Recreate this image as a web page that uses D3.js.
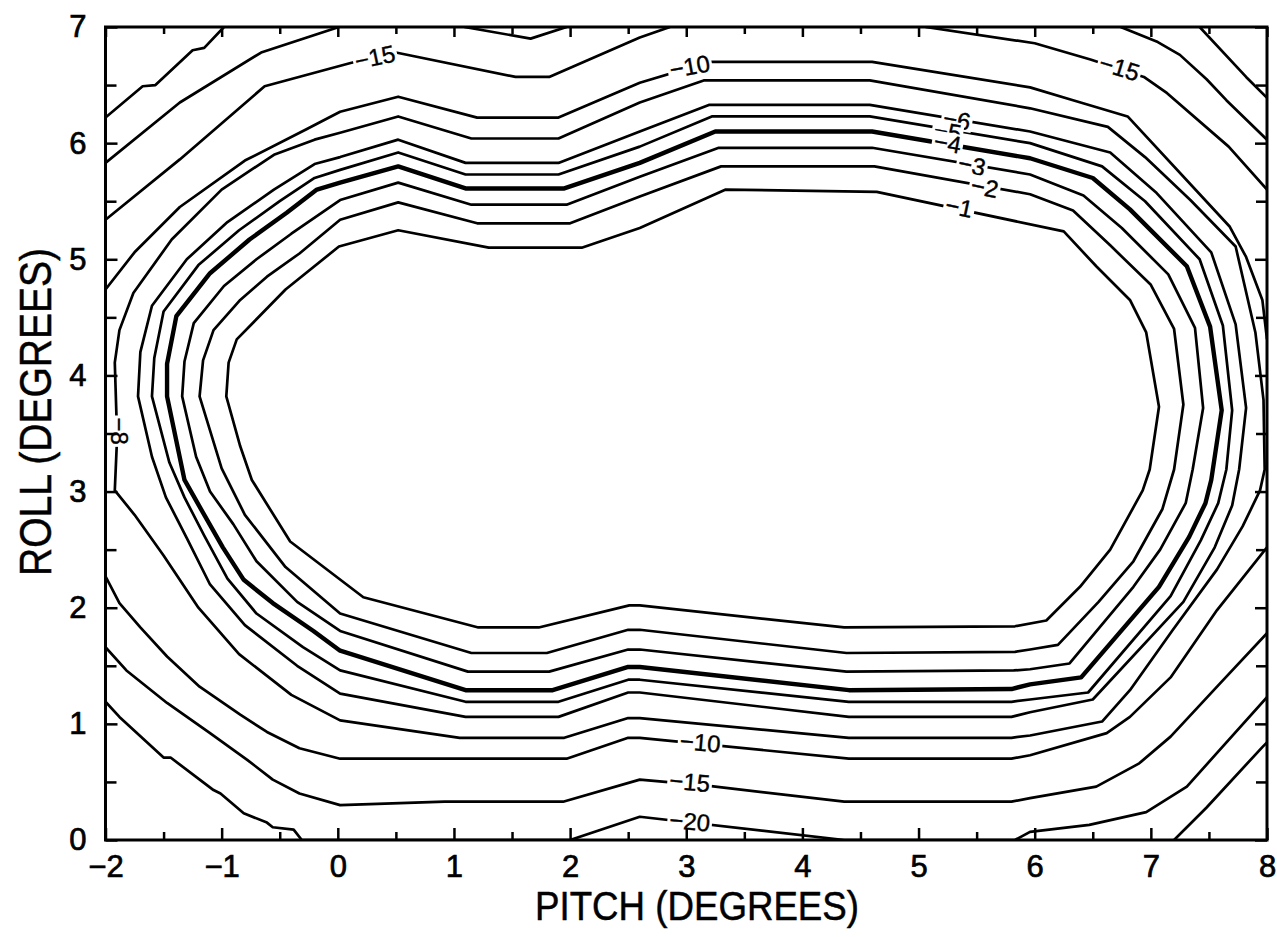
<!DOCTYPE html>
<html><head><meta charset="utf-8">
<script src="https://cdn.jsdelivr.net/npm/d3@7"></script>
<style>
body{margin:0;background:#fff}
text{font-family:'Liberation Sans Narrow','Liberation Sans',Arial,sans-serif;fill:#000}
</style>
</head><body>
<svg id="chart" width="1277" height="937"></svg>
<script>
// ---------- DATA ----------
const pitchTicks = [-2,-1,0,1,2,3,4,5,6,7,8];
const pitchMinor = [-1.5,-0.5,0.5,1.5,2.5,3.5,4.5,5.5,6.5,7.5];
const rollTicks = [0,1,2,3,4,5,6,7];
const rollMinor = [0.5,1.5,2.5,3.5,4.5,5.5,6.5];

// contour polylines [pitch, roll]
const c1 = [[-0.96,3.82],[-0.94,4.11],[-0.87,4.31],[-0.45,4.74],[0.01,5.11],[0.52,5.25],[1.3,5.10],[2.1,5.10],[2.6,5.27],[3.34,5.60],[4.64,5.58],[6.25,5.24],[6.53,4.94],[6.82,4.65],[6.96,4.37],[7.07,3.73],[6.99,3.19],[6.93,3.01],[6.65,2.50],[6.39,2.18],[6.10,1.89],[5.83,1.84],[4.36,1.83],[2.60,2.02],[2.51,2.02],[1.73,1.83],[1.21,1.83],[0.22,2.09],[-0.41,2.57],[-0.74,3.10],[-0.84,3.39]];
const c2 = [[-1.19,3.82],[-1.16,4.13],[-1.07,4.39],[-0.84,4.65],[-0.61,4.85],[-0.33,5.05],[0.02,5.34],[0.52,5.49],[1.2,5.31],[2.0,5.31],[2.6,5.54],[3.3,5.80],[4.62,5.80],[5.96,5.56],[6.33,5.42],[6.65,5.12],[7.0,4.78],[7.20,4.40],[7.28,3.75],[7.20,3.19],[7.10,2.85],[6.85,2.40],[6.55,2.05],[6.20,1.68],[5.96,1.64],[5.83,1.62],[4.38,1.61],[2.6,1.81],[2.5,1.81],[1.8,1.61],[1.15,1.61],[0.02,1.95],[-0.45,2.35],[-0.80,2.80],[-1.0,3.20]];
const c3 = [[-1.34,3.82],[-1.32,4.12],[-1.24,4.45],[-0.98,4.77],[-0.70,5.00],[-0.40,5.22],[0.02,5.51],[0.52,5.66],[1.15,5.47],[1.97,5.47],[2.6,5.71],[3.28,5.96],[4.6,5.96],[5.96,5.73],[6.42,5.55],[6.75,5.27],[7.15,4.87],[7.38,4.41],[7.45,3.72],[7.36,3.19],[7.30,2.90],[7.08,2.50],[6.85,2.18],[6.30,1.52],[5.96,1.47],[5.82,1.46],[4.38,1.45],[2.6,1.64],[2.5,1.64],[1.82,1.45],[1.12,1.45],[0.02,1.80],[-0.35,2.05],[-0.70,2.40],[-0.90,2.72],[-1.10,3.00],[-1.22,3.30]];
const c4 = [[-1.47,3.82],[-1.47,4.10],[-1.39,4.51],[-1.10,4.88],[-0.76,5.17],[-0.44,5.40],[-0.18,5.60],[0.02,5.66],[0.52,5.80],[1.1,5.61],[1.95,5.61],[2.6,5.83],[3.25,6.10],[4.6,6.10],[5.96,5.87],[6.50,5.70],[6.82,5.43],[7.31,4.94],[7.51,4.42],[7.61,3.70],[7.52,3.10],[7.47,2.90],[7.33,2.61],[7.07,2.18],[6.40,1.40],[5.96,1.34],[5.8,1.30],[4.4,1.29],[2.6,1.49],[2.5,1.49],[1.85,1.29],[1.1,1.29],[0.02,1.63],[-0.21,1.80],[-0.56,2.04],[-0.81,2.24],[-0.99,2.52],[-1.19,2.87],[-1.32,3.10]];
const c5 = [[-1.60,3.82],[-1.58,4.15],[-1.50,4.55],[-1.20,4.95],[-0.85,5.25],[-0.50,5.50],[-0.20,5.70],[0.02,5.77],[0.52,5.92],[1.1,5.73],[1.9,5.73],[2.6,5.97],[3.22,6.23],[4.58,6.23],[5.96,6.00],[6.58,5.80],[6.95,5.50],[7.42,5.00],[7.62,4.43],[7.70,3.70],[7.65,3.19],[7.58,2.90],[7.43,2.58],[7.17,2.10],[6.46,1.27],[5.96,1.21],[5.8,1.19],[4.4,1.19],[2.6,1.38],[2.5,1.38],[1.9,1.19],[1.1,1.19],[0.02,1.46],[-0.30,1.66],[-0.70,1.95],[-0.95,2.25],[-1.15,2.62],[-1.32,2.95],[-1.45,3.25]];
const c6 = [[-1.72,3.82],[-1.70,4.20],[-1.60,4.60],[-1.30,5.00],[-0.95,5.32],[-0.55,5.60],[-0.20,5.82],[0.02,5.88],[0.52,6.03],[1.1,5.83],[1.9,5.83],[2.6,6.10],[3.2,6.33],[4.58,6.33],[5.96,6.10],[6.65,5.92],[7.05,5.57],[7.52,5.06],[7.73,4.44],[7.82,3.72],[7.76,3.19],[7.70,2.88],[7.55,2.52],[7.28,2.05],[6.50,1.21],[5.96,1.10],[5.8,1.06],[4.4,1.06],[2.6,1.27],[2.5,1.27],[1.9,1.06],[1.1,1.06],[0.02,1.26],[-0.35,1.50],[-0.80,1.85],[-1.10,2.20],[-1.30,2.60],[-1.48,2.95],[-1.60,3.30]];
const c8 = [[-1.90,3.47],[-1.92,4.11],[-1.88,4.39],[-1.76,4.71],[-1.43,5.17],[-1.0,5.60],[-0.55,5.90],[-0.20,6.03],[0.02,6.09],[0.52,6.23],[1.15,6.04],[1.9,6.04],[2.6,6.35],[3.15,6.54],[4.58,6.54],[5.96,6.30],[6.63,6.14],[6.95,5.88],[7.34,5.51],[7.73,5.11],[7.90,4.37],[7.97,3.79],[7.98,3.19],[7.94,3.01],[7.79,2.70],[7.57,2.33],[7.19,1.81],[6.82,1.29],[6.58,1.02],[5.96,0.90],[5.8,0.88],[4.4,0.88],[2.6,1.05],[2.5,1.05],[1.95,0.88],[1.05,0.88],[0.02,1.03],[-0.40,1.25],[-0.85,1.60],[-1.20,2.00],[-1.50,2.45],[-1.75,2.80],[-1.92,3.01]];
const c10top = [[-2,4.74],[-1.75,5.06],[-1.36,5.45],[-0.80,5.85],[-0.27,6.12],[0.02,6.27],[0.52,6.40],[1.2,6.22],[1.9,6.22],[2.6,6.52],[3.2,6.70],[4.6,6.70],[5.96,6.48],[6.33,6.37],[6.80,6.23],[7.68,5.28],[7.82,5.02],[7.96,4.65],[8,4.31]];
const c10bot = [[8,2.52],[7.57,1.98],[7.17,1.40],[6.82,1.06],[6.62,0.92],[5.96,0.73],[5.8,0.70],[4.4,0.70],[2.6,0.88],[2.5,0.88],[1.97,0.70],[0.96,0.70],[0.02,0.70],[-0.33,0.79],[-0.61,0.93],[-0.84,1.08],[-1.19,1.32],[-1.47,1.58],[-1.70,1.83],[-1.88,2.04],[-2,2.27]];
const c15topL = [[-2,5.34],[-1.36,5.86],[-0.63,6.49],[0.11,6.69],[0.50,6.78],[1.53,6.57],[1.82,6.57],[2.60,6.91],[2.86,7.0]];
const c15topR = [[5.06,7.0],[6.0,6.86],[6.48,6.72],[6.94,6.57],[7.14,6.43],[7.67,5.97],[8,5.60]];
const c15bot = [[8,1.78],[7.57,1.32],[7.17,0.89],[6.90,0.66],[6.53,0.46],[5.96,0.36],[5.8,0.33],[4.36,0.33],[3.16,0.47],[2.6,0.52],[1.94,0.33],[0.92,0.33],[0.02,0.30],[-0.33,0.40],[-0.56,0.52],[-0.78,0.69],[-1.10,0.92],[-1.47,1.18],[-1.82,1.46],[-2,1.66]];
const c20topL = [[-2,5.83],[-1.36,6.35],[-0.66,6.78],[0.01,7.0]];
const c20topM = [[1.09,7.0],[1.66,6.90],[1.97,7.0]];
const c20topR = [[6.74,7.0],[7.06,6.87],[7.25,6.76],[7.48,6.55],[7.65,6.37],[8,6.03]];
const c20bot = [[8,1.23],[7.57,0.75],[7.31,0.46],[6.96,0.24],[6.47,0.13],[5.96,0.07],[5.83,0.0],[4.36,0.0],[2.6,0.20],[2.0,0.0],[-0.31,0.0],[-0.38,0.09],[-0.56,0.11],[-0.61,0.15],[-0.81,0.23],[-1.01,0.40],[-1.07,0.43],[-1.44,0.71],[-1.5,0.71],[-1.88,1.06],[-2,1.19]];
const c25topL = [[-2,6.22],[-1.68,6.49],[-1.57,6.50],[-1.25,6.80],[-1.15,6.82],[-0.98,7.0]];
const c25topR = [[7.42,7.0],[7.82,6.57],[8,6.39]];
const c25botR = [[7.2,0.0],[7.48,0.28],[7.96,0.80],[8,0.84]];

const contourLevels = [-1,-2,-3,-4,-5,-6,-8,-10,-15,-20,-25];
const contourLines = [
  {level:-1, pts:c1, closed:true},{level:-2, pts:c2, closed:true},{level:-3, pts:c3, closed:true},
  {level:-4, pts:c4, closed:true},{level:-5, pts:c5, closed:true},{level:-6, pts:c6, closed:true},
  {level:-8, pts:c8, closed:true},
  {level:-10, pts:c10top},{level:-10, pts:c10bot},
  {level:-15, pts:c15topL},{level:-15, pts:c15topR},{level:-15, pts:c15bot},
  {level:-20, pts:c20topL},{level:-20, pts:c20topM},{level:-20, pts:c20topR},{level:-20, pts:c20bot},
  {level:-25, pts:c25topL},{level:-25, pts:c25topR},{level:-25, pts:c25botR}
];
// contour labels: text, pitch, roll, angle
const labelText  = ['−15','−10','−15','−6','−5','−4','−3','−2','−1','−8','−10','−15','−20'];
const labelPitch = [0.32, 3.03, 6.73, 5.33, 5.25, 5.25, 5.46, 5.57, 5.35, -1.88, 3.12, 3.03, 3.03];
const labelRoll  = [6.74, 6.66, 6.65, 6.20, 6.10, 6.00, 5.81, 5.62, 5.45, 3.52, 0.84, 0.50, 0.16];
const labelAngle = [-12, -10, 17, 10, 10, 10, 12, 12, 12, 90, 5, 5, 5];

// ---------- CHART ----------
const svg = d3.select('#chart');
const x = d3.scaleLinear().domain([-2,8]).range([105.5,1267]);
const y = d3.scaleLinear().domain([0,7]).range([840,27]);

svg.append('defs').append('clipPath').attr('id','plotclip')
  .append('rect').attr('x',x(-2)).attr('y',y(7)).attr('width',x(8)-x(-2)).attr('height',y(0)-y(7));

const g = svg.append('g').attr('clip-path','url(#plotclip)');
const lineOpen = d3.line().x(d=>x(d[0])).y(d=>y(d[1]));
const lineClosed = d3.line().x(d=>x(d[0])).y(d=>y(d[1])).curve(d3.curveLinearClosed);

g.selectAll('path.c').data(contourLines).join('path')
  .attr('class','c')
  .attr('d', d => d.closed ? lineClosed(d.pts) : lineOpen(d.pts))
  .attr('fill','none').attr('stroke','#000')
  .attr('stroke-width', d => d.level === -4 ? 4.4 : 2.7)
  .attr('stroke-linejoin','round');

// labels
const lg = g.selectAll('g.lab').data(labelText.map((t,i)=>({t, p:labelPitch[i], r:labelRoll[i], a:labelAngle[i]})))
  .join('g').attr('class','lab')
  .attr('transform', d => `translate(${x(d.p)},${y(d.r)}) rotate(${d.a})`);
lg.append('rect');
lg.append('text').text(d=>d.t).attr('text-anchor','middle').attr('dy','0.35em')
  .style('font-size','24px').attr('stroke','#000').attr('stroke-width',0.4);
lg.each(function(){
  const gg = d3.select(this);
  const bb = gg.select('text').node().getBBox();
  gg.select('rect').attr('x',bb.x-2).attr('y',bb.y+3).attr('width',bb.width+4).attr('height',bb.height-6).attr('fill','#fff');
});

// axes
function styleAxis(sel){
  sel.select('.domain').remove();
  sel.selectAll('line').attr('stroke','#000').attr('stroke-width',2.5);
  sel.selectAll('text').style('font-size','31px').attr('fill','#000').attr('stroke','#000').attr('stroke-width',0.7);
}
const fmt = d3.format('d');
svg.append('g').attr('transform',`translate(0,${y(0)})`)
  .call(d3.axisBottom(x).tickValues(pitchTicks).tickSize(-12).tickPadding(15).tickFormat(fmt)).call(styleAxis);
svg.append('g').attr('transform',`translate(0,${y(0)})`)
  .call(d3.axisBottom(x).tickValues(pitchMinor).tickSize(-8).tickFormat('')).call(styleAxis);
svg.append('g').attr('transform',`translate(0,${y(7)})`)
  .call(d3.axisTop(x).tickValues(pitchTicks).tickSize(-10).tickFormat('')).call(styleAxis);
svg.append('g').attr('transform',`translate(0,${y(7)})`)
  .call(d3.axisTop(x).tickValues(pitchMinor).tickSize(-7).tickFormat('')).call(styleAxis);
svg.append('g').attr('transform',`translate(${x(-2)},0)`)
  .call(d3.axisLeft(y).tickValues(rollTicks).tickSize(-12).tickPadding(19).tickFormat(fmt)).call(styleAxis);
svg.append('g').attr('transform',`translate(${x(-2)},0)`)
  .call(d3.axisLeft(y).tickValues(rollMinor).tickSize(-11).tickFormat('')).call(styleAxis);
svg.append('g').attr('transform',`translate(${x(8)},0)`)
  .call(d3.axisRight(y).tickValues(rollTicks).tickSize(-12).tickFormat('')).call(styleAxis);
svg.append('g').attr('transform',`translate(${x(8)},0)`)
  .call(d3.axisRight(y).tickValues(rollMinor).tickSize(-11).tickFormat('')).call(styleAxis);

// frame
svg.append('rect').attr('x',x(-2)).attr('y',y(7)).attr('width',x(8)-x(-2)).attr('height',y(0)-y(7))
  .attr('fill','none').attr('stroke','#000').attr('stroke-width',3);

// titles
svg.append('text').attr('x',697).attr('y',920).attr('text-anchor','middle')
  .attr('textLength',324).attr('lengthAdjust','spacingAndGlyphs')
  .style('font-size','40px').attr('stroke','#000').attr('stroke-width',0.5).text('PITCH (DEGREES)');
svg.append('text').attr('transform',`translate(51,412) rotate(-90)`).attr('text-anchor','middle')
  .attr('textLength',328).attr('lengthAdjust','spacingAndGlyphs')
  .style('font-size','44px').attr('stroke','#000').attr('stroke-width',0.5).text('ROLL (DEGREES)');
</script>
</body></html>
